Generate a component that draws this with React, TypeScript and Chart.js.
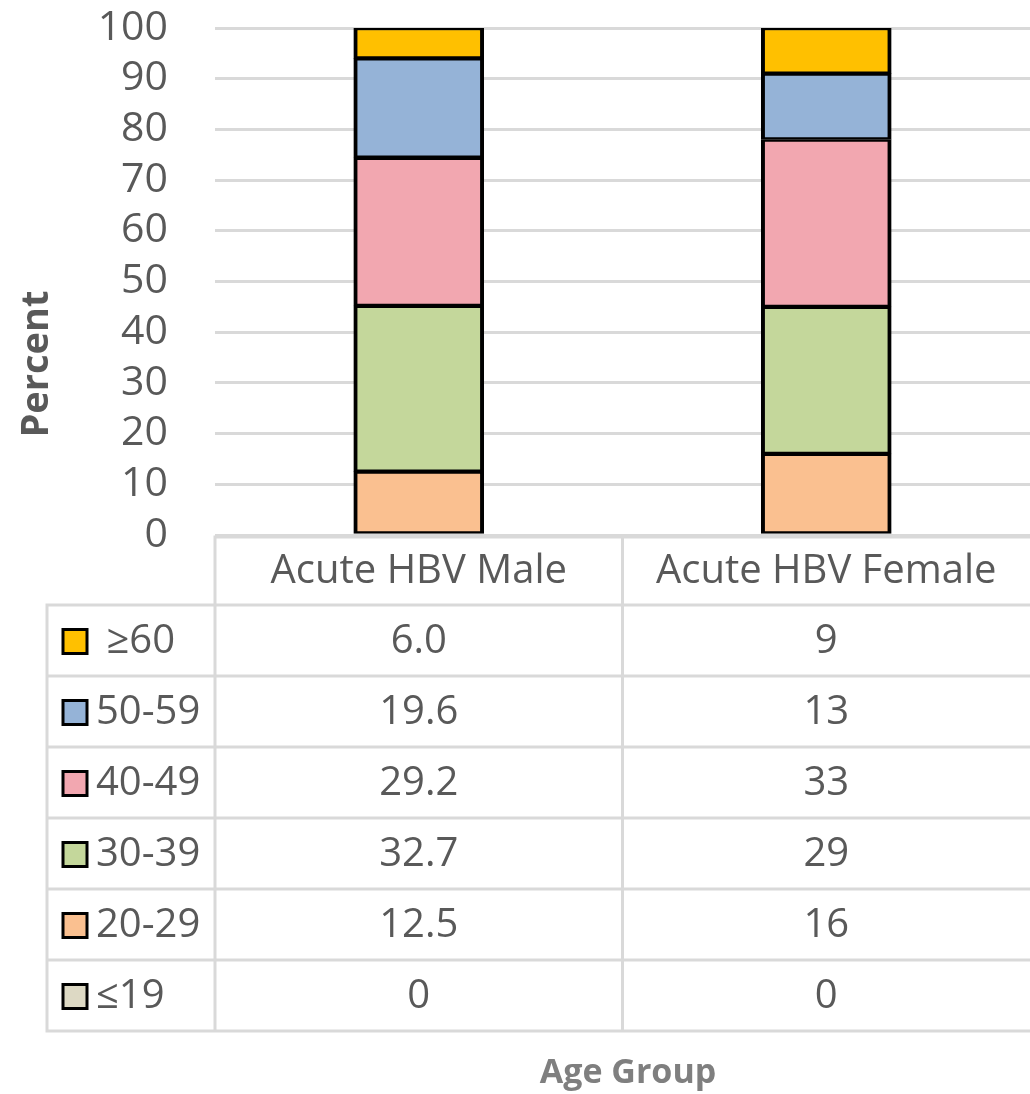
import React, { useEffect, useRef } from "react";
import { Chart, registerables } from "chart.js";

Chart.register(...registerables);

const categories = ["Acute HBV Male", "Acute HBV Female"];
const ageGroups = ["≤19", "20-29", "30-39", "40-49", "50-59", "≥60"];
const legendLabels = ["≤19", "20-29", "30-39", "40-49", "50-59", " ≥60"];
const maleValues = [0, 12.5, 32.7, 29.2, 19.6, 6.0];
const femaleValues = [0, 16, 29, 33, 13, 9];
const seriesDecimals = [1, 0];
const groupColors = ["#DDD9C4", "#FAC090", "#C4D79B", "#F2A7B0", "#95B3D7", "#FFC000"];
const yMin = 0;
const yMax = 100;
const yStep = 10;
const yTitle = "Percent";
const xTitle = "Age Group";

const FONT = "'Open Sans', sans-serif";
const TEXT = "#595959";
const GRID = "#d9d9d9";

function fmt(v: number, dec: number) {
  if (v === 0) return "0";
  return v.toFixed(dec);
}

const tablePlugin = {
  id: "dataTable",
  afterDraw(chart: any) {
    const ctx = chart.ctx as CanvasRenderingContext2D;
    const ca = chart.chartArea;
    const colW = (ca.right - ca.left) / categories.length;
    const tableTop = ca.bottom + 2;
    const headerBottom = 605;
    const rowH = 71;
    const labelLeft = 47;
    const nRows = ageGroups.length;
    const tableBottom = headerBottom + nRows * rowH;
    const series = [maleValues, femaleValues];

    ctx.save();
    ctx.strokeStyle = GRID;
    ctx.lineWidth = 3;
    ctx.beginPath();
    ctx.moveTo(ca.left - 1.5, tableTop);
    ctx.lineTo(ca.right, tableTop);
    for (let k = 0; k <= nRows; k++) {
      const y = headerBottom + k * rowH;
      ctx.moveTo(labelLeft - 1.5, y);
      ctx.lineTo(ca.right, y);
    }
    ctx.moveTo(labelLeft, headerBottom);
    ctx.lineTo(labelLeft, tableBottom + 1.5);
    for (let c = 0; c < categories.length; c++) {
      const x = ca.left + c * colW;
      ctx.moveTo(x, tableTop);
      ctx.lineTo(x, tableBottom + 1.5);
    }
    ctx.stroke();

    ctx.fillStyle = TEXT;
    ctx.font = `40px ${FONT}`;
    ctx.textAlign = "center";
    ctx.textBaseline = "middle";
    const xs = chart.scales.x;
    categories.forEach((cat, c) => {
      const cx = xs.getPixelForValue(c);
      ctx.fillText(cat, cx, (tableTop + headerBottom) / 2 + 1);
    });

    for (let r = 0; r < nRows; r++) {
      const gi = nRows - 1 - r;
      const cy = headerBottom + r * rowH + rowH / 2 + 1;
      ctx.fillStyle = groupColors[gi];
      ctx.fillRect(63, cy - 12, 24, 24);
      ctx.strokeStyle = "#000";
      ctx.lineWidth = 3;
      ctx.strokeRect(63, cy - 12, 24, 24);
      ctx.fillStyle = TEXT;
      ctx.textAlign = "left";
      ctx.fillText(legendLabels[gi], 96, cy);
      ctx.textAlign = "center";
      series.forEach((vals, c) => {
        const cx = xs.getPixelForValue(c);
        ctx.fillText(fmt(vals[gi], seriesDecimals[c]), cx, cy);
      });
    }

    ctx.font = `bold 34px ${FONT}`;
    ctx.fillStyle = "#7f7f7f";
    ctx.textAlign = "center";
    ctx.fillText(xTitle, 628, 1073);

    ctx.save();
    ctx.translate(37, 364);
    ctx.rotate(-Math.PI / 2);
    ctx.fillStyle = TEXT;
    ctx.font = `bold 38px ${FONT}`;
    ctx.fillText(yTitle, 0, 0);
    ctx.restore();

    ctx.restore();
  },
};

export default function App() {
  const ref = useRef<HTMLCanvasElement | null>(null);
  useEffect(() => {
    if (!ref.current) return;
    const datasets = ageGroups.map((g, i) => ({
      label: g,
      data: [maleValues[i], femaleValues[i]],
      backgroundColor: groupColors[i],
      borderColor: "#000000",
      borderWidth: { left: 4, right: 4, top: 2.5, bottom: 2.5 },
      borderSkipped: false as const,
      barThickness: 130,
    }));
    const chart = new Chart(ref.current, {
      type: "bar",
      data: { labels: categories, datasets },
      plugins: [tablePlugin],
      options: {
        responsive: false,
        animation: false,
        layout: { padding: { top: 28, bottom: 1094 - 535, left: 0, right: 0 } },
        plugins: { legend: { display: false }, tooltip: { enabled: false } },
        scales: {
          x: { stacked: true, display: false, offset: true },
          y: {
            stacked: true,
            min: yMin,
            max: yMax,
            ticks: {
              stepSize: yStep,
              autoSkip: false,
              color: TEXT,
              font: { family: FONT, size: 41 },
              padding: 0,
            },
            grid: {
              color: GRID,
              lineWidth: 3,
              drawTicks: true,
              tickLength: 47,
              tickColor: "rgba(0,0,0,0)",
            },
            border: { display: false },
            afterFit: (scale: any) => {
              scale.width = 215;
            },
          },
        },
      },
    });
    return () => chart.destroy();
  }, []);
  return (
    <div style={{ position: "absolute", left: 0, top: 0, width: 1030, height: 1094, background: "#fff" }}>
      <canvas ref={ref} width={1030} height={1094} style={{ width: 1030, height: 1094 }} />
    </div>
  );
}
